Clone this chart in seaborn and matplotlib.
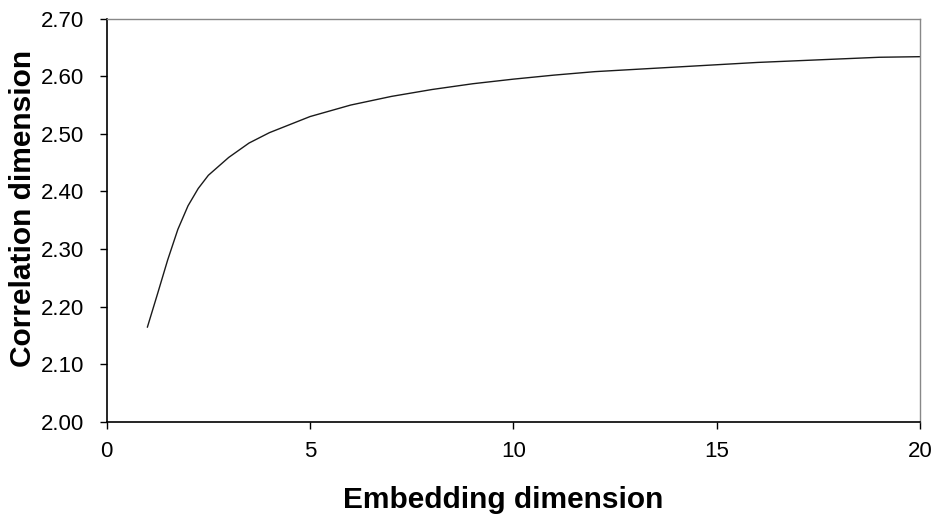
import numpy as np
import pandas as pd
import matplotlib
matplotlib.use('Agg')
import matplotlib.pyplot as plt
import seaborn as sns

# values (extra half steps where it bends sharply)
embedding_dim = [1, 1.25, 1.5, 1.75, 2, 2.25, 2.5, 3, 3.5, 4, 5, 6, 7, 8, 9, 10,
                 11, 12, 13, 14, 15, 16, 17, 18, 19, 20]
correlation_dim = [2.164, 2.222, 2.281, 2.334, 2.375, 2.405, 2.428, 2.459, 2.484, 2.502,
                   2.530, 2.550, 2.565, 2.577, 2.587, 2.595, 2.602, 2.608, 2.612, 2.616,
                   2.620, 2.624, 2.627, 2.630, 2.633, 2.634]
x_ticks = [0, 5, 10, 15, 20]
y_ticks = [2.00, 2.10, 2.20, 2.30, 2.40, 2.50, 2.60, 2.70]

df = pd.DataFrame({'Embedding dimension': embedding_dim,
                   'Correlation dimension': correlation_dim})

sns.set_style('white')
plt.rcParams['font.family'] = ['Liberation Sans', 'DejaVu Sans']
plt.rcParams['text.color'] = 'black'
plt.rcParams['axes.labelcolor'] = 'black'

fig = plt.figure(figsize=(9.39, 5.19), dpi=100)
ax = fig.add_axes([0.1136, 0.1875, 0.8664, 0.7765])

sns.lineplot(data=df, x='Embedding dimension', y='Correlation dimension',
             color='#1a1a1a', linewidth=1.0, ax=ax)

ax.set_xlim(0, 20)
ax.set_ylim(2.0, 2.7)
ax.set_xticks(x_ticks)
ax.set_yticks(y_ticks)
ax.set_yticklabels([f'{v:.2f}' for v in y_ticks])
ax.tick_params(axis='both', direction='out', length=5, width=1, colors='black',
               labelsize=16, bottom=True, left=True)
ax.tick_params(axis='x', pad=9)
ax.tick_params(axis='y', pad=11)

for side in ['left', 'bottom']:
    ax.spines[side].set_color('black')
    ax.spines[side].set_linewidth(1.2)
for side in ['top', 'right']:
    ax.spines[side].set_color('#888888')
    ax.spines[side].set_linewidth(1.0)

ax.set_xlabel('Embedding dimension', fontsize=21.5, fontweight='bold')
ax.set_ylabel('Correlation dimension', fontsize=21.5, fontweight='bold')
ax.xaxis.set_label_coords(0.488, -0.16)
ax.yaxis.set_label_coords(-0.086, 0.528)

fig.savefig('out.png', dpi=100, facecolor='white')
